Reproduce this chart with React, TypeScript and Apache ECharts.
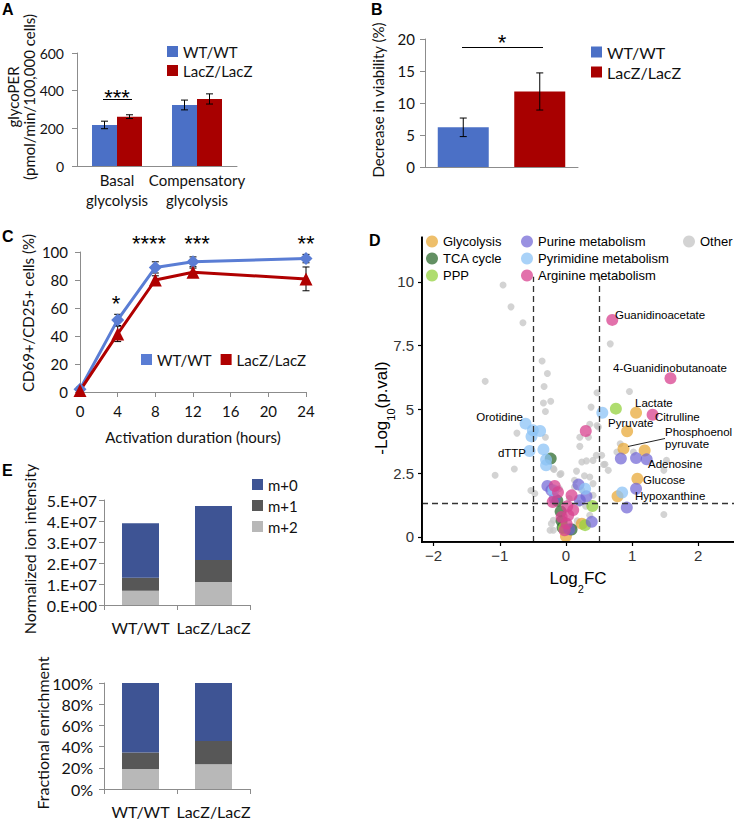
import React, { useEffect, useRef } from 'react';
import * as echarts from 'echarts';

// ---------- Panel A ----------
const categoriesA = ['Basal\nglycolysis', 'Compensatory\nglycolysis'];
const wtA = [218, 324];
const wtAErr = [20, 26];
const lacA = [262, 356];
const lacAErr = [10, 27];

// ---------- Panel B ----------
const genotypes = ['WT/WT', 'LacZ/LacZ'];
const viabilityB = [6.2, 11.8];
const viabilityBErr = [1.45, 2.9];

// ---------- Panel C ----------
const hoursC = [0, 4, 8, 12, 24];
const wtC = [2, 51.5, 89, 93, 95.3];
const wtCErr = [1.5, 4, 4, 3.5, 3];
const lacC = [1, 41.5, 80, 85.5, 80.8];
const lacCErr = [1.5, 5.5, 3, 3, 8.5];

// ---------- Panel D (log2FC, -log10 p) ----------
const fcCut = 0.5;
const pCut = 1.3;
const other = [
  [-0.95, 9.88], [-0.83, 9.02], [-0.65, 8.4], [-0.36, 6.9], [-0.28, 6.41], [0.67, 7.57], [-1.22, 6.1],
  [-0.33, 5.9], [-0.34, 5.25], [-0.23, 5.32], [-0.31, 4.92], [0.47, 5.65], [0.38, 5.09], [0.96, 5.7],
  [-0.74, 4.07], [-0.78, 2.66], [-1.07, 2.42], [-0.53, 1.82], [-0.31, 3.91], [-0.18, 2.64], [-0.09, 2.45],
  [0.16, 2.58], [0.24, 2.94], [0.31, 2.98], [0.41, 3.0], [0.36, 2.35], [0.21, 3.55], [0.34, 3.91], [0.36, 4.42],
  [0.49, 4.31], [0.64, 2.61], [0.57, 2.84], [0.82, 3.65], [0.77, 3.33], [1.02, 3.33], [1.52, 3.0], [1.48, 2.61],
  [1.48, 0.88], [0.41, 1.63], [-0.22, 0.52], [-0.19, 0.26], [0.2, 1.31], [0.24, 1.83], [0.13, 1.96],
  [0.46, 3.2], [0.59, 2.85], [-0.075, 2.48], [-0.19, 2.68], [-0.47, 1.7], [-0.19, 0.65], [-0.24, 0.26],
  [0.17, 0.63], [0.36, 0.85], [0.41, 2.09], [0.13, 2.22], [0.47, 4.37], [0.54, 3.2], [0.21, 3.91], [0.28, 2.4],
  [0.05, 1.5], [-0.1, 1.9], [0.3, 1.2], [0.12, 0.4],
];
const glycolysis = [[1.06, 4.87], [0.925, 4.14], [0.87, 3.46], [1.19, 3.39], [1.08, 2.28], [0.78, 1.59], [0.24, 0.52], [0.0, 0.03]];
const tca = [[-0.23, 3.07], [-0.13, 1.42], [-0.08, 1.0], [-0.065, 0.62], [0.085, 0.29], [-0.05, 0.37]];
const ppp = [[0.755, 5.03], [0.4, 1.21], [0.29, 0.46], [-0.03, 0.35]];
const purine = [
  [0.83, 3.07], [1.06, 3.09], [1.22, 3.04], [1.06, 1.89], [0.92, 1.15], [-0.28, 2.0], [-0.22, 1.83],
  [0.19, 2.05], [0.31, 1.59], [0.39, 0.59], [-0.17, 1.5], [0.21, 1.44], [0.05, 0.3],
];
const pyrimidine = [
  [-0.61, 4.44], [-0.5, 4.18], [-0.39, 4.15], [-0.52, 3.94], [-0.55, 3.37], [-0.34, 3.43], [-0.3, 3.03],
  [-0.3, 2.81], [0.55, 4.87], [0.85, 1.74], [0.29, 1.89], [-0.19, 1.83],
];
const arginine = [
  [0.7, 8.51], [1.58, 6.22], [1.31, 4.79], [0.3, 4.15], [-0.17, 2.0], [-0.2, 1.37], [0.085, 1.63],
  [0.11, 1.05], [0.035, 0.85], [-0.065, 0.78], [0.01, 0.52], [-0.02, 0.26], [-0.12, 1.75], [0.02, 1.2],
];

// ---------- Panel E ----------
const isotopologues = ['m+0', 'm+1', 'm+2'];
const intensityM0 = [2.59e7, 2.57e7];
const intensityM1 = [0.62e7, 1.05e7];
const intensityM2 = [0.68e7, 1.095e7];
const fractionM0 = [65.6, 54.7];
const fractionM1 = [15.6, 21.9];
const fractionM2 = [18.8, 23.4];

// ---------- styles ----------
const FX = 'Lato, Carlito, "Liberation Sans", sans-serif';
const FD = '"Liberation Sans", Arial, Helvetica, sans-serif';
const BLUE = '#4B70C6';
const RED = '#A80000';
const C_BLUE = '#5A7DD4';
const C_RED = '#B00000';
const M0 = '#3E5494';
const M1 = '#575757';
const M2 = '#B8B8B8';
const AX = '#8C8C8C';
const TXT = '#111';

const volcanoStyle = [
  { name: 'Other', data: other, color: '#C8C8C8', size: 7, opacity: 0.8 },
  { name: 'Glycolysis', data: glycolysis, color: '#E8A93A', size: 12, opacity: 0.75 },
  { name: 'TCA cycle', data: tca, color: '#2F6B2F', size: 12, opacity: 0.75 },
  { name: 'PPP', data: ppp, color: '#94D13F', size: 12, opacity: 0.75 },
  { name: 'Purine metabolism', data: purine, color: '#6D62D4', size: 12, opacity: 0.7 },
  { name: 'Pyrimidine metabolism', data: pyrimidine, color: '#8CC3F5', size: 12, opacity: 0.75 },
  { name: 'Arginine metabolism', data: arginine, color: '#D8428F', size: 12, opacity: 0.75 },
];

const errorBars = (dx: number, cap: number) => (params: any, api: any) => {
  const p1 = api.coord([api.value(0), api.value(1)]);
  const p2 = api.coord([api.value(0), api.value(2)]);
  const x = p1[0] + dx;
  const st = { stroke: '#000', lineWidth: 1 };
  return {
    type: 'group',
    children: [
      { type: 'line', shape: { x1: x, y1: p1[1], x2: x, y2: p2[1] }, style: st },
      { type: 'line', shape: { x1: x - cap, y1: p1[1], x2: x + cap, y2: p1[1] }, style: st },
      { type: 'line', shape: { x1: x - cap, y1: p2[1], x2: x + cap, y2: p2[1] }, style: st },
    ],
  };
};

const excelLine = { show: true, lineStyle: { color: AX, width: 1 } };
const excelTick = { show: true, length: 5, lineStyle: { color: AX } };
const excelLabel = (size: number, margin: number) => ({ color: TXT, fontFamily: FX, fontSize: size, margin });

const ggTick = { show: true, length: 4, lineStyle: { color: '#000', width: 1.2 } };

const minusFmt = (v: number) => (v < 0 ? '\u2212' + -v : String(v));
const sciFmt = (v: number) => (v === 0 ? '0.E+00' : `${v / 1e7}.E+07`);

function buildOption() {
  const grid = [
    { left: 77, top: 53, width: 160, height: 113 },
    { left: 425, top: 39, width: 153, height: 128 },
    { left: 80, top: 252, width: 226, height: 140 },
    { left: 422, top: 237, width: 312, height: 305 },
    { left: 104, top: 500, width: 146, height: 105 },
    { left: 104, top: 683, width: 146, height: 107 },
  ];

  const xAxis: any[] = [
    { gridIndex: 0, type: 'category', data: categoriesA, axisLine: excelLine, axisTick: { show: false },
      axisLabel: { ...excelLabel(15, 4), lineHeight: 20, interval: 0 } },
    { gridIndex: 1, type: 'category', data: genotypes, axisLine: excelLine, axisTick: { show: false },
      axisLabel: { show: false } },
    { gridIndex: 2, type: 'value', min: 0, max: 24, interval: 4, axisLine: excelLine, axisTick: excelTick,
      splitLine: { show: false }, axisLabel: excelLabel(15, 11),
      name: 'Activation duration (hours)', nameLocation: 'middle', nameGap: 37,
      nameTextStyle: { fontFamily: FX, fontSize: 15, color: TXT } },
    { gridIndex: 3, type: 'value', position: 'bottom', min: -2.175, max: 2.54,
      axisLine: { show: true, onZero: false, lineStyle: { color: '#000', width: 1.6 } },
      axisTick: { ...ggTick, customValues: [-2, -1, 0, 1, 2] }, splitLine: { show: false },
      axisLabel: { customValues: [-2, -1, 0, 1, 2], formatter: minusFmt, color: '#333', fontFamily: FD, fontSize: 15, margin: 6 },
      name: 'Log{s|2}FC', nameLocation: 'middle', nameGap: 28,
      nameTextStyle: { fontFamily: FD, fontSize: 17, color: '#000', rich: { s: { fontFamily: FD, fontSize: 11, verticalAlign: 'bottom', padding: [0, 0, -7, 0] } } } },
    { gridIndex: 4, type: 'category', data: genotypes, axisLine: excelLine,
      axisTick: { ...excelTick, alignWithLabel: false, interval: 0 }, axisLabel: { ...excelLabel(16, 14), interval: 0 } },
    { gridIndex: 5, type: 'category', data: genotypes, axisLine: excelLine,
      axisTick: { ...excelTick, alignWithLabel: false, interval: 0 }, axisLabel: { ...excelLabel(16, 14), interval: 0 } },
  ];

  const yAxis: any[] = [
    { gridIndex: 0, type: 'value', min: 0, max: 600, interval: 200, axisLine: excelLine, axisTick: excelTick,
      splitLine: { show: false }, axisLabel: excelLabel(14, 13) },
    { gridIndex: 1, type: 'value', min: 0, max: 20, interval: 5, axisLine: excelLine, axisTick: excelTick,
      splitLine: { show: false }, axisLabel: excelLabel(15, 10) },
    { gridIndex: 2, type: 'value', min: 0, max: 100, interval: 20, axisLine: excelLine, axisTick: excelTick,
      splitLine: { show: false }, axisLabel: excelLabel(15, 12) },
    { gridIndex: 3, type: 'value', position: 'left', min: -0.2, max: 11.76,
      axisLine: { show: true, onZero: false, lineStyle: { color: '#000', width: 1.6 } },
      axisTick: { ...ggTick, customValues: [0, 2.5, 5, 7.5, 10] }, splitLine: { show: false },
      axisLabel: { customValues: [0, 2.5, 5, 7.5, 10], color: '#333', fontFamily: FD, fontSize: 15, margin: 8 } },
    { gridIndex: 4, type: 'value', min: 0, max: 5e7, interval: 1e7, axisLine: excelLine, axisTick: excelTick,
      splitLine: { show: false }, axisLabel: { ...excelLabel(16, 7), formatter: sciFmt } },
    { gridIndex: 5, type: 'value', min: 0, max: 100, interval: 20, axisLine: excelLine, axisTick: excelTick,
      splitLine: { show: false }, axisLabel: { ...excelLabel(16, 11), formatter: '{value}%' } },
  ];

  const series: any[] = [
    // A
    { name: 'WT/WT', type: 'bar', xAxisIndex: 0, yAxisIndex: 0, data: wtA, barWidth: 25, barGap: '0%', itemStyle: { color: BLUE } },
    { name: 'LacZ/LacZ', type: 'bar', xAxisIndex: 0, yAxisIndex: 0, data: lacA, barWidth: 25, barGap: '0%', itemStyle: { color: RED } },
    { type: 'custom', xAxisIndex: 0, yAxisIndex: 0, renderItem: errorBars(-12.5, 3.5), z: 5,
      data: wtA.map((v, i) => [i, v - wtAErr[i], v + wtAErr[i]]), encode: { x: 0, y: [1, 2] } },
    { type: 'custom', xAxisIndex: 0, yAxisIndex: 0, renderItem: errorBars(12.5, 3.5), z: 5,
      data: lacA.map((v, i) => [i, v - lacAErr[i], v + lacAErr[i]]), encode: { x: 0, y: [1, 2] } },
    // B
    { name: 'WT/WT', type: 'bar', xAxisIndex: 1, yAxisIndex: 1, data: [viabilityB[0], '-'], barWidth: 51, barGap: '-100%', itemStyle: { color: BLUE } },
    { name: 'LacZ/LacZ', type: 'bar', xAxisIndex: 1, yAxisIndex: 1, data: ['-', viabilityB[1]], barWidth: 51, barGap: '-100%', itemStyle: { color: RED } },
    { type: 'custom', xAxisIndex: 1, yAxisIndex: 1, renderItem: errorBars(0, 3.5), z: 5,
      data: viabilityB.map((v, i) => [i, v - viabilityBErr[i], v + viabilityBErr[i]]), encode: { x: 0, y: [1, 2] } },
    // C
    { type: 'custom', xAxisIndex: 2, yAxisIndex: 2, renderItem: errorBars(0, 3.5), z: 1,
      data: hoursC.map((h, i) => [h, wtC[i] - wtCErr[i], wtC[i] + wtCErr[i]]), encode: { x: 0, y: [1, 2] } },
    { type: 'custom', xAxisIndex: 2, yAxisIndex: 2, renderItem: errorBars(0, 3.5), z: 1,
      data: hoursC.map((h, i) => [h, lacC[i] - lacCErr[i], lacC[i] + lacCErr[i]]), encode: { x: 0, y: [1, 2] } },
    { name: 'WT/WT', type: 'line', xAxisIndex: 2, yAxisIndex: 2, data: hoursC.map((h, i) => [h, wtC[i]]),
      symbol: 'diamond', symbolSize: 13, lineStyle: { color: C_BLUE, width: 3 }, itemStyle: { color: C_BLUE }, z: 3 },
    { name: 'LacZ/LacZ', type: 'line', xAxisIndex: 2, yAxisIndex: 2, data: hoursC.map((h, i) => [h, lacC[i]]),
      symbol: 'triangle', symbolSize: 13, lineStyle: { color: C_RED, width: 3 }, itemStyle: { color: C_RED }, z: 3 },
    // D
    ...volcanoStyle.map((g, k) => ({
      name: g.name, type: 'scatter', xAxisIndex: 3, yAxisIndex: 3, data: g.data, symbolSize: g.size,
      itemStyle: { color: g.color, opacity: g.opacity }, emphasis: { disabled: true }, z: 2 + k * 0.01,
      ...(k === 0 ? {
        markLine: {
          silent: true, symbol: 'none', label: { show: false },
          lineStyle: { type: [6, 4], color: '#333', width: 1.3 },
          data: [
            [{ coord: [-fcCut, -0.2] }, { coord: [-fcCut, 10.2] }],
            [{ coord: [fcCut, -0.2] }, { coord: [fcCut, 10.2] }],
            [{ coord: [-2.175, pCut] }, { coord: [2.54, pCut] }],
          ],
        },
      } : {}),
    })),
    // E top
    { name: 'm+2', type: 'bar', stack: 'e1', xAxisIndex: 4, yAxisIndex: 4, data: intensityM2, barWidth: 37, itemStyle: { color: M2 } },
    { name: 'm+1', type: 'bar', stack: 'e1', xAxisIndex: 4, yAxisIndex: 4, data: intensityM1, barWidth: 37, itemStyle: { color: M1 } },
    { name: 'm+0', type: 'bar', stack: 'e1', xAxisIndex: 4, yAxisIndex: 4, data: intensityM0, barWidth: 37, itemStyle: { color: M0 } },
    // E bottom
    { name: 'm+2', type: 'bar', stack: 'e2', xAxisIndex: 5, yAxisIndex: 5, data: fractionM2, barWidth: 37, itemStyle: { color: M2 } },
    { name: 'm+1', type: 'bar', stack: 'e2', xAxisIndex: 5, yAxisIndex: 5, data: fractionM1, barWidth: 37, itemStyle: { color: M1 } },
    { name: 'm+0', type: 'bar', stack: 'e2', xAxisIndex: 5, yAxisIndex: 5, data: fractionM0, barWidth: 37, itemStyle: { color: M0 } },
  ];

  const exLegend = (left: number, top: number, colors: string[], size: number, gap: number, orient = 'vertical') => ({
    left, top, orient, selectedMode: false, icon: 'rect', itemWidth: 11, itemHeight: 11, itemGap: gap, padding: 0,
    textStyle: { fontFamily: FX, fontSize: size, lineHeight: size, color: TXT },
    data: genotypes.map((n, i) => ({ name: n, itemStyle: { color: colors[i] } })),
  });
  const dLegend = (left: number, names: string[]) => ({
    left, top: 235, orient: 'vertical', selectedMode: false, icon: 'circle', itemWidth: 12, itemHeight: 12, itemGap: 4, padding: 0,
    textStyle: { fontFamily: FD, fontSize: 13, lineHeight: 13, color: '#000' },
    data: names,
  });
  const legend: any[] = [
    exLegend(167, 44, [BLUE, RED], 15, 4),
    exLegend(591, 44, [BLUE, RED], 16, 4),
    exLegend(141, 352, [C_BLUE, C_RED], 15, 9, 'horizontal'),
    dLegend(426, ['Glycolysis', 'TCA cycle', 'PPP']),
    dLegend(521, ['Purine metabolism', 'Pyrimidine metabolism', 'Arginine metabolism']),
    dLegend(683, ['Other']),
    {
      left: 252, top: 477, orient: 'vertical', selectedMode: false, icon: 'rect', itemWidth: 11, itemHeight: 11, itemGap: 6, padding: 0,
      textStyle: { fontFamily: FX, fontSize: 15, lineHeight: 15, color: TXT }, data: isotopologues,
    },
  ];

  const T = (text: string, x: number, y: number, o: any = {}) => ({
    type: 'text', x, y, rotation: o.rot || 0, silent: true, z: 100,
    style: {
      text, fill: o.fill || TXT, fontFamily: o.ff || FX, fontSize: o.fs || 15, fontWeight: o.fw || 'normal',
      align: o.align || 'center', verticalAlign: o.va || 'middle', lineHeight: o.lh,
    },
  });
  const L = (x1: number, y1: number, x2: number, y2: number, color = '#000', w = 1) => ({
    type: 'line', silent: true, z: 100, shape: { x1, y1, x2, y2 }, style: { stroke: color, lineWidth: w },
  });
  const R = (x: number, y: number, width: number, height: number) => ({
    type: 'rect', silent: true, z: 100, shape: { x, y, width, height }, style: { fill: '#000' },
  });
  const R90 = Math.PI / 2;
  const lab = (t: string, x: number, y: number, align = 'left') => T(t, x, y, { ff: FD, fs: 11.5, align, fill: '#000' });
  const star = (t: string, x: number, y: number) => T(t, x, y, { ff: FD, fs: 22, fill: '#000' });

  const graphic: any[] = [
    // panel letters
    T('A', 2, 9, { ff: FD, fw: 'bold', fs: 16, align: 'left', fill: '#000' }),
    T('B', 371, 9, { ff: FD, fw: 'bold', fs: 16, align: 'left', fill: '#000' }),
    T('C', 2, 236, { ff: FD, fw: 'bold', fs: 16, align: 'left', fill: '#000' }),
    T('D', 369, 240, { ff: FD, fw: 'bold', fs: 16, align: 'left', fill: '#000' }),
    T('E', 2, 470, { ff: FD, fw: 'bold', fs: 16, align: 'left', fill: '#000' }),
    // panel D frame (ggplot classic axis lines)
    R(421, 237, 1.8, 306),
    R(421, 541, 313, 1.8),
    // y titles
    T('glycoPER\n(pmol/min/100,000 cells)', 21, 97, { rot: R90, fs: 15, lh: 16 }),
    T('Decrease in viability (%)', 378, 100, { rot: R90, fs: 15 }),
    T('CD69+/CD25+ cells (%)', 28, 313, { rot: R90, fs: 15 }),
    {
      type: 'text', x: 381, y: 408, rotation: R90, silent: true, z: 100,
      style: {
        text: '-Log{s|10}(p.val)', fill: '#000', fontFamily: FD, fontSize: 17, align: 'center', verticalAlign: 'middle',
        rich: { s: { fontFamily: FD, fontSize: 11, verticalAlign: 'bottom', padding: [0, 0, -7, 0] } },
      },
    },
    T('Normalized ion intensity', 29, 549, { rot: R90, fs: 16 }),
    T('Fractional enrichment', 42, 733, { rot: R90, fs: 16 }),
    // significance
    star('***', 117, 97),
    L(103, 99.5, 132, 99.5),
    star('*', 502, 42),
    L(462, 47.5, 543, 47.5),
    star('*', 116, 303),
    star('****', 149, 243),
    star('***', 197, 243),
    star('**', 306, 243),
    // volcano labels
    lab('Guanidinoacetate', 615, 315),
    lab('4-Guanidinobutanoate', 613, 368),
    lab('Lactate', 635, 403),
    lab('Citrulline', 655, 417),
    lab('Pyruvate', 608, 423),
    T('Phosphoenol\npyruvate', 665, 438, { ff: FD, fs: 11.5, align: 'left', fill: '#000', lh: 12.5 }),
    L(628, 446.5, 665, 438.5, '#222'),
    lab('Adenosine', 648, 464),
    lab('Glucose', 643, 480),
    lab('Hypoxanthine', 635, 496),
    lab('Orotidine', 523, 417, 'right'),
    lab('dTTP', 526, 453, 'right'),
  ];

  return { animation: false, backgroundColor: '#fff', textStyle: { fontFamily: FX }, grid, xAxis, yAxis, legend, series, graphic };
}

export default function App() {
  const ref = useRef<HTMLDivElement>(null);
  useEffect(() => {
    const chart = echarts.init(ref.current!, null, { renderer: 'svg' });
    chart.setOption(buildOption() as any);
    return () => chart.dispose();
  }, []);
  return <div ref={ref} style={{ position: 'absolute', left: 0, top: 0, width: 734, height: 819, background: '#fff' }} />;
}
